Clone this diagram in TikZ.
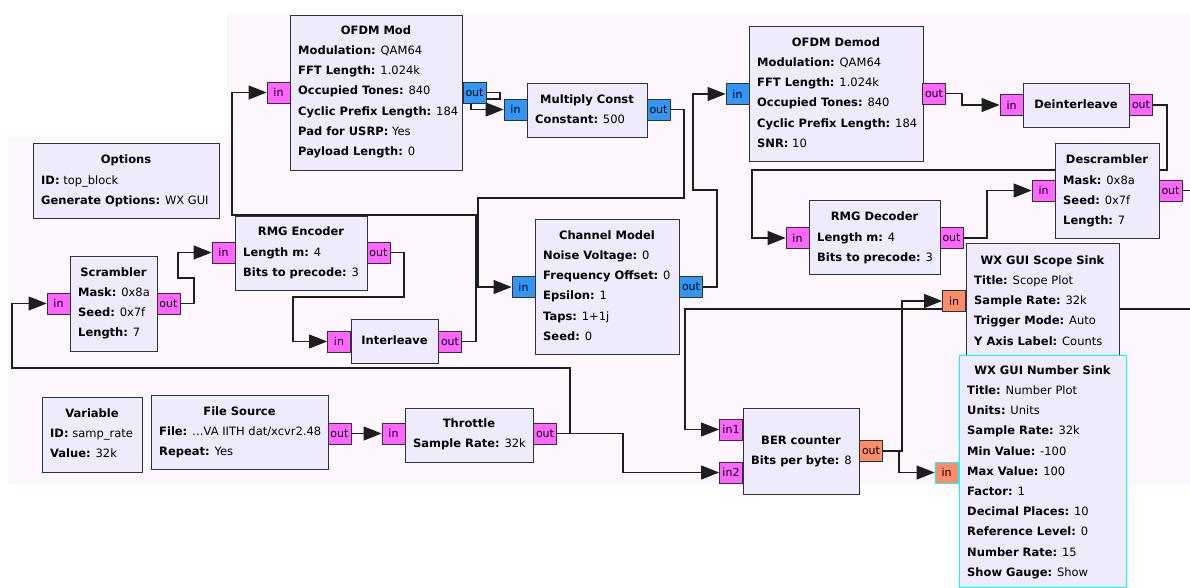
\documentclass[tikz,border=0pt]{standalone}
\usepackage{fontspec}
\setmainfont{DejaVu Sans}
\usetikzlibrary{arrows.meta,calc}
\definecolor{blkfill}{RGB}{238,236,252}
\definecolor{bordc}{RGB}{50,50,50}
\definecolor{wirec}{RGB}{30,30,30}
\definecolor{magc}{RGB}{255,102,255}
\definecolor{bluc}{RGB}{50,150,245}
\definecolor{orac}{RGB}{255,140,105}
\definecolor{hlc}{RGB}{0,255,255}
\definecolor{bgpink}{RGB}{253,246,253}
\pgfdeclarelayer{back}
\pgfdeclarelayer{wires}
\pgfsetlayers{back,wires,main}
\newcommand\gparams[4]{\foreach \t [count=\i from 0] in {#4}{\node[prm] (#1-p\i) at (#2,{#3+20.2*\i}) {\t};}}
\tikzset{
  blk/.style={draw=bordc, fill=blkfill, line width=1pt, inner sep=0pt, anchor=north west},
  prt/.style={draw=bordc, line width=0.8pt, minimum width=23pt, minimum height=21pt, inner sep=0pt, font=\fontsize{11}{12}\selectfont},
  pmag/.style={prt, fill=magc},
  pblu/.style={prt, fill=bluc},
  pora/.style={prt, fill=orac},
  ttl/.style={anchor=base, inner sep=0pt, font=\fontsize{11.5}{13}\selectfont\bfseries},
  prm/.style={anchor=base west, inner sep=0pt, font=\fontsize{11.5}{13}\selectfont},
  wire/.style={draw=wirec, line width=1.1pt, -{Triangle[length=18pt,width=14pt]}},
}
\begin{document}
\begin{tikzpicture}[x=1pt,y=-1pt]
\useasboundingbox (0,0) rectangle (1190,588);
\begin{pgfonlayer}{back}
\fill[white] (0,0) rectangle (1190,588);
\fill[bgpink] (8,137) -- (227,137) -- (227,14) -- (1190,14) -- (1190,484) -- (8,484) -- cycle;
\end{pgfonlayer}

% ---------- blocks ----------
\node[blk, minimum width=186pt, minimum height=75pt] (opt) at (33,143) {};
\node[blk, minimum width=172pt, minimum height=155pt] (ofm) at (290,15) {};
\node[blk, minimum width=120pt, minimum height=54pt] (mc) at (527,83) {};
\node[blk, minimum width=174pt, minimum height=135pt] (ofd) at (749,26) {};
\node[blk, minimum width=106pt, minimum height=44pt] (dil) at (1023,83) {};
\node[blk, minimum width=104pt, minimum height=95pt] (dsc) at (1055,143) {};
\node[blk, minimum width=131pt, minimum height=74pt] (rmd) at (809,200) {};
\node[blk, minimum width=132pt, minimum height=74pt] (rme) at (235,216) {};
\node[blk, minimum width=87pt, minimum height=95pt] (scr) at (70,256) {};
\node[blk, minimum width=87pt, minimum height=44pt] (ilv) at (351,319) {};
\node[blk, minimum width=144pt, minimum height=135pt] (chm) at (535,219) {};
\node[blk, minimum width=153pt, minimum height=117pt] (scp) at (966,243) {};
\node[blk, draw=hlc, minimum width=167pt, minimum height=232pt] (num) at (959,355) {};
\node[blk, minimum width=100pt, minimum height=75pt] (var) at (42,397) {};
\node[blk, minimum width=177pt, minimum height=74pt] (fs) at (151,395) {};
\node[blk, minimum width=128pt, minimum height=54pt] (thr) at (405,408) {};
\node[blk, minimum width=116pt, minimum height=86pt] (ber) at (743,408) {};

% ---------- ports ----------
\node[pmag] (ofm-in) at (278.5,92.5) {in};
\node[pblu] (ofm-out) at (474.5,92.5) {out};
\node[pblu] (mc-in) at (515.5,109.5) {in};
\node[pblu] (mc-out) at (658.5,109.5) {out};
\node[pblu] (ofd-in) at (737.5,94) {in};
\node[pmag] (ofd-out) at (934,93.5) {out};
\node[pmag] (dil-in) at (1011.5,105) {in};
\node[pmag] (dil-out) at (1141,105) {out};
\node[pmag] (dsc-in) at (1043.5,190.5) {in};
\node[pmag] (dsc-out) at (1170.5,190.5) {out};
\node[pmag] (rmd-in) at (797.5,238) {in};
\node[pmag] (rmd-out) at (951.5,238) {out};
\node[pmag] (rme-in) at (223.5,252.5) {in};
\node[pmag] (rme-out) at (378.5,252.5) {out};
\node[pmag] (scr-in) at (58.5,303.5) {in};
\node[pmag] (scr-out) at (168.5,303.5) {out};
\node[pmag] (ilv-in) at (339,341.5) {in};
\node[pmag] (ilv-out) at (450,341.5) {out};
\node[pblu] (chm-in) at (523.5,287) {in};
\node[pblu] (chm-out) at (691,287) {out};
\node[pora] (scp-in) at (954,301) {in};
\node[pora, draw=hlc] (num-in) at (946.5,472.5) {in};
\node[pmag] (ber-in1) at (731,429.5) {in1};
\node[pmag] (ber-in2) at (731,472.5) {in2};
\node[pora] (ber-out) at (871,451) {out};
\node[pmag] (fs-out) at (339.5,433.5) {out};
\node[pmag] (thr-in) at (393.5,433.5) {in};
\node[pmag] (thr-out) at (545,433.5) {out};

% ---------- texts ----------
\node[ttl] (opt-t) at (126,163.5) {Options};
\gparams{opt}{41}{184.5}{{\textbf{ID:} top\_block},{\textbf{Generate Options:} WX GUI}}
\node[ttl] (ofm-t) at (376,34.5) {OFDM Mod};
\gparams{ofm}{298}{54.5}{{\textbf{Modulation:} QAM64},{\textbf{FFT Length:} 1.024k},{\textbf{Occupied Tones:} 840},{\textbf{Cyclic Prefix Length:} 184},{\textbf{Pad for USRP:} Yes},{\textbf{Payload Length:} 0}}
\node[ttl] (mc-t) at (587,103.5) {Multiply Const};
\gparams{mc}{535}{123.5}{{\textbf{Constant:} 500}}
\node[ttl] (ofd-t) at (836,46.5) {OFDM Demod};
\gparams{ofd}{757}{66.5}{{\textbf{Modulation:} QAM64},{\textbf{FFT Length:} 1.024k},{\textbf{Occupied Tones:} 840},{\textbf{Cyclic Prefix Length:} 184},{\textbf{SNR:} 10}}
\node[ttl] (dil-t) at (1076,108.5) {Deinterleave};
\node[ttl] (dsc-t) at (1107,163.5) {Descrambler};
\gparams{dsc}{1063}{184.5}{{\textbf{Mask:} 0x8a},{\textbf{Seed:} 0x7f},{\textbf{Length:} 7}}
\node[ttl] (rmd-t) at (874.5,220.5) {RMG Decoder};
\gparams{rmd}{817}{241.5}{{\textbf{Length m:} 4},{\textbf{Bits to precode:} 3}}
\node[ttl] (rme-t) at (301,235.5) {RMG Encoder};
\gparams{rme}{243}{256.5}{{\textbf{Length m:} 4},{\textbf{Bits to precode:} 3}}
\node[ttl] (scr-t) at (113.5,276.5) {Scrambler};
\gparams{scr}{78}{296.5}{{\textbf{Mask:} 0x8a},{\textbf{Seed:} 0x7f},{\textbf{Length:} 7}}
\node[ttl] (ilv-t) at (394.5,344.5) {Interleave};
\node[ttl] (chm-t) at (607,239.5) {Channel Model};
\gparams{chm}{543}{259.5}{{\textbf{Noise Voltage:} 0},{\textbf{Frequency Offset:} 0},{\textbf{Epsilon:} 1},{\textbf{Taps:} 1+1j},{\textbf{Seed:} 0}}
\node[ttl] (scp-t) at (1042.5,264.5) {WX GUI Scope Sink};
\gparams{scp}{974}{284.5}{{\textbf{Title:} Scope Plot},{\textbf{Sample Rate:} 32k},{\textbf{Trigger Mode:} Auto},{\textbf{Y Axis Label:} Counts}}
\node[ttl] (num-t) at (1042.5,374.5) {WX GUI Number Sink};
\gparams{num}{967}{394.5}{{\textbf{Title:} Number Plot},{\textbf{Units:} Units},{\textbf{Sample Rate:} 32k},{\textbf{Min Value:} -100},{\textbf{Max Value:} 100},{\textbf{Factor:} 1},{\textbf{Decimal Places:} 10},{\textbf{Reference Level:} 0},{\textbf{Number Rate:} 15},{\textbf{Show Gauge:} Show}}
\node[ttl] (var-t) at (92,417.5) {Variable};
\gparams{var}{50}{437.5}{{\textbf{ID:} samp\_rate},{\textbf{Value:} 32k}}
\node[ttl] (fs-t) at (239.5,415.5) {File Source};
\gparams{fs}{159}{435.5}{{\textbf{File:} …VA IITH dat/xcvr2.48},{\textbf{Repeat:} Yes}}
\node[ttl] (thr-t) at (469,427.5) {Throttle};
\gparams{thr}{413}{447.5}{{\textbf{Sample Rate:} 32k}}
\node[ttl] (ber-t) at (801,444.5) {BER counter};
\gparams{ber}{751}{464.5}{{\textbf{Bits per byte:} 8}}

% ---------- wires ----------
\begin{pgfonlayer}{wires}
\draw[wire] (fs-out.east) -- (thr-in.west);
\draw[wire] (thr-out.east) -- (570,433.5) -- (570,368) -- (12,368) |- (scr-in.west);
\draw[wire] (thr-out.east) -- (623,433.5) |- (ber-in2.west);
\draw[wire] (scr-out.east) -- (194,303.5) -- (194,278) -- (178,278) |- (rme-in.west);
\draw[wire] (rme-out.east) -- (404,252.5) -- (404,297) -- (293,297) |- (ilv-in.west);
\draw[wire] (ilv-out.east) -- (476,341.5) -- (476,215) -- (232,215) |- (ofm-in.west);
\draw[wire] (ofm-out.east) -- (500,92.5) -- (500,99) -- (471,99) |- (mc-in.west);
\draw[wire] (mc-out.east) -- (684,109.5) -- (684,198) -- (478,198) |- (chm-in.west);
\draw[wire] (chm-out.east) -- (717,287) -- (717,190) -- (693,190) |- (ofd-in.west);
\draw[wire] (ofd-out.east) -- (962,93.5) |- (dil-in.west);
\draw[wire] (dil-out.east) -- (1167,105) -- (1167,170) -- (752,170) |- (rmd-in.west);
\draw[wire] (rmd-out.east) -- (987,238) |- (dsc-in.west);
\draw[wire] (dsc-out.east) -- (1200,190.5) -- (1200,309) -- (685,309) |- (ber-in1.west);
\draw[wire] (ber-out.east) -- (902,451) |- (scp-in.west);
\draw[wire] (ber-out.east) -- (899,451) |- (num-in.west);
\end{pgfonlayer}
\end{tikzpicture}
\end{document}
